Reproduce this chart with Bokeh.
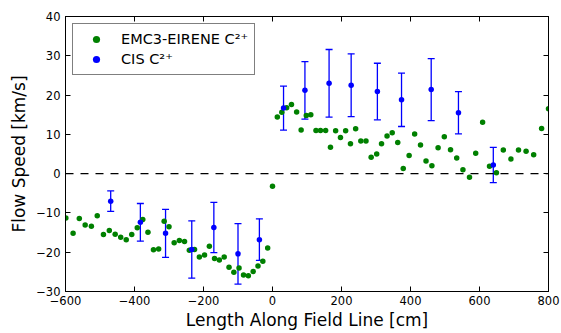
from bokeh.plotting import figure
from bokeh.models import (ColumnDataSource, Whisker, TeeHead, Span, LinearAxis,
                          FixedTicker, Legend, LegendItem, Range1d)
from bokeh.embed import file_html
from bokeh.resources import INLINE

# ---------------- data ----------------
emc_x = [-599, -578, -560, -543, -525, -508, -490, -473, -456, -440, -424, -408,
         -392, -376, -361, -345, -330, -314, -300,
         -285, -270, -255, -241, -226, -212, -197, -183, -168, -154, -140, -126,
         -112, -97, -84, -70, -56, -42, -28, -14, 0,
         14, 27, 41, 55, 70, 83, 98, 111, 126, 139, 154, 168, 183, 197, 212, 226,
         241, 256, 271, 286, 302, 316, 332, 347, 363,
         379, 396, 412, 429, 445, 462, 480, 498, 516, 534, 552, 571, 589, 609, 629,
         649, 669, 691, 713, 735, 757, 780, 800]
emc_y = [-11.3, -15.2, -11.4, -13.1, -13.4, -10.7, -15.5, -14.5, -15.4, -16.2, -16.8, -15.5,
         -13.8, -11.7, -14.9, -19.4, -19.2, -12.1, -13.5,
         -17.6, -17.0, -17.3, -19.5, -19.3, -21.2, -20.7, -18.5, -21.6, -22.0, -21.2, -23.8,
         -25.1, -24.0, -25.8, -26.0, -24.9, -23.5, -22.3, -18.9, -3.2,
         14.4, 15.6, 16.8, 17.6, 15.7, 11.1, 14.8, 15.0, 11.0, 11.0, 11.0, 6.7, 10.9, 9.2, 10.9, 7.6,
         11.4, 8.3, 8.3, 4.2, 5.0, 7.6, 9.6, 10.4, 7.9,
         1.3, 4.6, 10.1, 7.3, 3.2, 2.0, 6.6, 9.4, 6.1, 4.0, 1.0, -0.9, 5.2, 13.1, 1.9,
         0.25, 6.0, 3.7, 6.0, 5.7, 4.8, 11.5, 16.5]

cis_x = [-469, -383, -310, -234, -170, -100, -38, 32, 94, 164, 228, 304, 374, 460, 539, 640]
cis_y = [-7.0, -12.4, -15.2, -19.3, -13.7, -20.4, -16.8, 16.7, 21.2, 23.0, 22.5, 20.9, 18.8, 21.4, 15.5, 2.2]
cis_err = [2.6, 4.8, 6.1, 7.3, 6.4, 7.7, 5.3, 5.6, 7.3, 8.6, 8.0, 7.2, 6.8, 7.9, 5.4, 4.5]

x_ticks = [-600, -400, -200, 0, 200, 400, 600, 800]
y_ticks = [-30, -20, -10, 0, 10, 20, 30, 40]

label_emc = "EMC3-EIRENE C²⁺"
label_cis = "CIS C²⁺"
x_label = "Length Along Field Line [cm]"
y_label = "Flow Speed [km/s]"

FONT = "DejaVu Sans"


def tick_text(v):
    return ("−" + str(abs(v))) if v < 0 else str(v)


# ---------------- figure ----------------
p = figure(width=561, height=333, output_backend="svg", toolbar_location=None,
           x_range=Range1d(-600, 800), y_range=Range1d(-30, 40),
           min_border_left=65, min_border_right=13, min_border_top=16,
           min_border_bottom=42)
p.grid.visible = False
p.outline_line_color = "black"
p.outline_line_width = 1
p.background_fill_color = "white"
p.border_fill_color = "white"


def style_axis(ax, ticks, show_labels):
    ax.ticker = FixedTicker(ticks=ticks)
    ax.major_tick_in = 5
    ax.major_tick_out = 0
    ax.minor_tick_in = 0
    ax.minor_tick_out = 0
    ax.axis_line_color = "black"
    ax.major_tick_line_color = "black"
    ax.major_label_text_font = FONT
    if show_labels:
        ax.major_label_text_color = "black"
        ax.major_label_text_font_size = "11.5px"
        ax.major_label_overrides = {t: tick_text(t) for t in ticks}
    else:
        ax.major_label_text_color = None
        ax.major_label_standoff = 0


style_axis(p.xaxis[0], x_ticks, True)
style_axis(p.yaxis[0], y_ticks, True)
p.xaxis[0].major_label_standoff = 4
p.yaxis[0].major_label_standoff = 5
p.xaxis[0].axis_label = x_label
p.yaxis[0].axis_label = y_label
for ax in (p.xaxis[0], p.yaxis[0]):
    ax.axis_label_text_font = FONT
    ax.axis_label_text_font_size = "17px"
    ax.axis_label_text_font_style = "normal"
    ax.axis_label_text_color = "black"
p.xaxis[0].axis_label_standoff = 2
p.yaxis[0].axis_label_standoff = 4

top = LinearAxis()
style_axis(top, x_ticks, False)
p.add_layout(top, "above")
right = LinearAxis()
style_axis(right, y_ticks, False)
p.add_layout(right, "right")

# zero line
p.add_layout(Span(location=0, dimension="width", line_color="black",
                  line_width=1.2, line_dash="8 7"))

# EMC3 points
g = p.scatter(emc_x, emc_y, size=5.5, fill_color="green", line_color=None)

# CIS with error bars
src = ColumnDataSource(dict(
    x=cis_x, y=cis_y,
    upper=[a + b for a, b in zip(cis_y, cis_err)],
    lower=[a - b for a, b in zip(cis_y, cis_err)],
))
wh = Whisker(source=src, base="x", upper="upper", lower="lower", dimension="height",
             line_color="blue", line_width=1.3,
             upper_head=TeeHead(size=7, line_color="blue", line_width=1.3),
             lower_head=TeeHead(size=7, line_color="blue", line_width=1.3))
p.add_layout(wh)
b = p.scatter("x", "y", source=src, size=5.5, fill_color="blue", line_color=None)

legend = Legend(items=[LegendItem(label=label_emc, renderers=[g]),
                       LegendItem(label=label_cis, renderers=[b])],
                location="top_left")
legend.margin = 7
legend.padding = 6
legend.spacing = 2
legend.glyph_width = 34
legend.glyph_height = 18
legend.label_height = 18
legend.label_standoff = 8
legend.label_text_font = FONT
legend.label_text_font_size = "14.5px"
legend.label_text_color = "black"
legend.border_line_color = "black"
legend.border_line_width = 1
legend.background_fill_color = "white"
legend.background_fill_alpha = 1
p.add_layout(legend, "center")

open("out.html", "w").write(file_html(p, INLINE))
